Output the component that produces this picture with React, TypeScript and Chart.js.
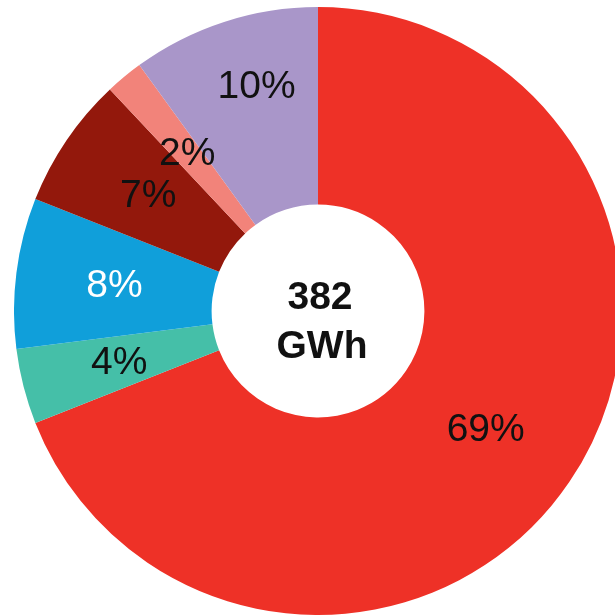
import React, { useEffect, useRef } from "react";
import { Chart, registerables } from "chart.js";

Chart.register(...registerables);

const categories = ["A", "B", "C", "D", "E", "F"];
const shares = [69, 4, 8, 7, 2, 10];
const sliceColors = ["#EE3127", "#45BFA8", "#109FDA", "#93180C", "#F2837A", "#A996C9"];
const labelColors = ["#111111", "#111111", "#FFFFFF", "#111111", "#111111", "#111111"];
const centerLines = ["382", "GWh"];

const labelPlugin = {
  id: "sliceLabels",
  afterDatasetsDraw(chart: any, _args: any, opts: any) {
    const ctx = chart.ctx;
    const meta = chart.getDatasetMeta(0);
    ctx.save();
    ctx.font = "39px 'Liberation Sans', Arial, sans-serif";
    ctx.textAlign = "center";
    ctx.textBaseline = "middle";
    meta.data.forEach((arc: any, i: number) => {
      const { x, y, startAngle, endAngle, innerRadius, outerRadius } = arc.getProps(
        ["x", "y", "startAngle", "endAngle", "innerRadius", "outerRadius"],
        true
      );
      const shift = ((opts.angleShifts && opts.angleShifts[i]) || 0) * Math.PI / 180;
      const mid = (startAngle + endAngle) / 2 + shift;
      const f = (opts.radiusFactors && opts.radiusFactors[i]) || 0.5;
      const r = innerRadius + (outerRadius - innerRadius) * f;
      ctx.fillStyle = labelColors[i];
      ctx.fillText(shares[i] + "%", x + Math.cos(mid) * r, y + Math.sin(mid) * r + 1);
    });
    const cx = meta.data[0].x;
    const cy = meta.data[0].y;
    ctx.font = "bold 39px 'Liberation Sans', Arial, sans-serif";
    ctx.fillStyle = "#111111";
    ctx.fillText(centerLines[0], cx + 2, cy - 13);
    ctx.fillText(centerLines[1], cx + 4, cy + 36);
    ctx.restore();
  },
};

export default function App() {
  const ref = useRef<HTMLCanvasElement | null>(null);
  useEffect(() => {
    if (!ref.current) return;
    const chart = new Chart(ref.current, {
      type: "doughnut",
      data: {
        labels: categories,
        datasets: [
          {
            data: shares,
            backgroundColor: sliceColors,
            borderWidth: 0,
          },
        ],
      },
      options: {
        animation: false,
        responsive: true,
        maintainAspectRatio: false,
        cutout: "35%",
        layout: { padding: 0 },
        plugins: {
          legend: { display: false },
          tooltip: { enabled: false },
          sliceLabels: {
            radiusFactors: [0.5, 0.5, 0.5, 0.5, 0.5, 0.64],
            angleShifts: [1, 0, 0, 0, 0, 2.7],
          },
        } as any,
      },
      plugins: [labelPlugin],
    });
    return () => chart.destroy();
  }, []);
  return (
    <div
      style={{
        position: "fixed",
        left: 0,
        top: 0,
        width: 615,
        height: 616,
        overflow: "hidden",
        background: "#fff",
      }}
    >
      <div style={{ position: "absolute", left: 14, top: 7, width: 608, height: 608 }}>
        <canvas ref={ref} />
      </div>
    </div>
  );
}
